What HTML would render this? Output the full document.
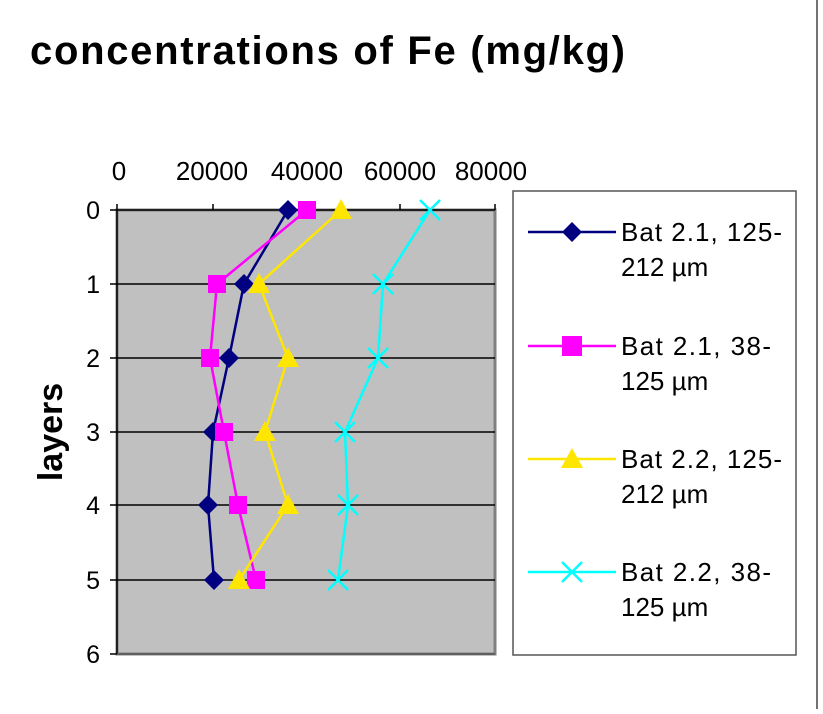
<!DOCTYPE html>
<html><head><style>body{margin:0;background:#fff}</style></head><body>
<svg width="823" height="709" xmlns="http://www.w3.org/2000/svg" font-family="Liberation Sans, Arial, sans-serif">
<rect x="0" y="0" width="823" height="709" fill="#fff"/>
<line x1="817" y1="0" x2="817" y2="709" stroke="#444" stroke-width="1.5"/>
<text x="30" y="64" font-size="40" font-weight="bold" textLength="595" lengthAdjust="spacing">concentrations of Fe  (mg/kg)</text>
<rect x="117" y="210" width="378" height="444" fill="#c0c0c0" stroke="#808080" stroke-width="3"/>
<g stroke="#000" stroke-width="1.5">
<line x1="117" y1="284" x2="495" y2="284"/><line x1="117" y1="358" x2="495" y2="358"/>
<line x1="117" y1="432" x2="495" y2="432"/><line x1="117" y1="505" x2="495" y2="505"/>
<line x1="117" y1="580" x2="495" y2="580"/>
<line x1="117" y1="210" x2="495" y2="210"/><line x1="117" y1="210" x2="117" y2="654"/>
<line x1="117" y1="654" x2="495" y2="654" stroke="#555"/>
<line x1="117" y1="204" x2="117" y2="210"/><line x1="213" y1="204" x2="213" y2="210"/><line x1="307" y1="204" x2="307" y2="210"/><line x1="400" y1="204" x2="400" y2="210"/><line x1="495" y1="204" x2="495" y2="210"/>
<line x1="110" y1="210" x2="117" y2="210"/><line x1="110" y1="284" x2="117" y2="284"/><line x1="110" y1="358" x2="117" y2="358"/><line x1="110" y1="432" x2="117" y2="432"/><line x1="110" y1="505" x2="117" y2="505"/><line x1="110" y1="580" x2="117" y2="580"/><line x1="110" y1="654" x2="117" y2="654"/>
</g>
<g font-size="26" text-anchor="middle">
<text x="119" y="180">0</text><text x="212" y="180">20000</text><text x="307" y="180">40000</text><text x="400" y="180">60000</text><text x="491" y="180">80000</text>
</g>
<g font-size="25" text-anchor="end">
<text x="100" y="219">0</text><text x="100" y="293">1</text><text x="100" y="367">2</text><text x="100" y="441">3</text><text x="100" y="514">4</text><text x="100" y="589">5</text><text x="100" y="663">6</text>
</g>
<text transform="translate(62,432) rotate(-90)" font-size="34" font-weight="bold" text-anchor="middle">layers</text>
<polyline points="288,210 244,284 229,358 213,432 208,505 214,580" fill="none" stroke="#000080" stroke-width="2.5"/>
<polyline points="307,210 217,284 210,358 224,432 238,505 256,580" fill="none" stroke="#ff00ff" stroke-width="2.5"/>
<polyline points="341,210 259,284 288,358 265,432 288,505 239,580" fill="none" stroke="#ffe600" stroke-width="2.5"/>
<polyline points="430,210 383,284 378,358 345,432 348,505 338,580" fill="none" stroke="#00ffff" stroke-width="2.5"/>
<g fill="#000080">
<polygon points="288,200 298,210 288,220 278,210"/><polygon points="244,274 254,284 244,294 234,284"/><polygon points="229,348 239,358 229,368 219,358"/><polygon points="213,422 223,432 213,442 203,432"/><polygon points="208,495 218,505 208,515 198,505"/><polygon points="214,570 224,580 214,590 204,580"/>
</g>
<g fill="#ff00ff">
<rect x="298" y="201" width="18" height="18"/><rect x="208" y="275" width="18" height="18"/><rect x="201" y="349" width="18" height="18"/><rect x="215" y="423" width="18" height="18"/><rect x="229" y="496" width="18" height="18"/><rect x="247" y="571" width="18" height="18"/>
</g>
<g fill="#ffe600">
<polygon points="341,199 352,219 330,219"/><polygon points="259,273 270,293 248,293"/><polygon points="288,347 299,367 277,367"/><polygon points="265,421 276,441 254,441"/><polygon points="288,494 299,514 277,514"/><polygon points="239,569 250,589 228,589"/>
</g>
<g stroke="#00ffff" stroke-width="2.5">
<path d="M420,200 L440,220 M440,200 L420,220"/><path d="M373,274 L393,294 M393,274 L373,294"/><path d="M368,348 L388,368 M388,348 L368,368"/><path d="M335,422 L355,442 M355,422 L335,442"/><path d="M338,495 L358,515 M358,495 L338,515"/><path d="M328,570 L348,590 M348,570 L328,590"/>
</g>
<rect x="513" y="191" width="283" height="464" fill="#fff" stroke="#555" stroke-width="1.5"/>
<g font-size="26">
<line x1="528" y1="232" x2="616" y2="232" stroke="#000080" stroke-width="2.5"/><polygon points="572,222 582,232 572,242 562,232" fill="#000080"/>
<text x="621" y="241" textLength="161" lengthAdjust="spacing">Bat 2.1, 125-</text><text x="621" y="276">212 µm</text>
<line x1="528" y1="346" x2="616" y2="346" stroke="#ff00ff" stroke-width="2.5"/><rect x="562" y="336" width="20" height="20" fill="#ff00ff"/>
<text x="621" y="355" textLength="150" lengthAdjust="spacing">Bat 2.1, 38-</text><text x="621" y="390">125 µm</text>
<line x1="528" y1="459" x2="616" y2="459" stroke="#ffe600" stroke-width="2.5"/><polygon points="572,448 583,468 561,468" fill="#ffe600"/>
<text x="621" y="468" textLength="161" lengthAdjust="spacing">Bat 2.2, 125-</text><text x="621" y="503">212 µm</text>
<line x1="528" y1="572" x2="616" y2="572" stroke="#00ffff" stroke-width="2.5"/><path d="M562,562 L582,582 M582,562 L562,582" stroke="#00ffff" stroke-width="2.5"/>
<text x="621" y="581" textLength="150" lengthAdjust="spacing">Bat 2.2, 38-</text><text x="621" y="616">125 µm</text>
</g>
</svg>
</body></html>
